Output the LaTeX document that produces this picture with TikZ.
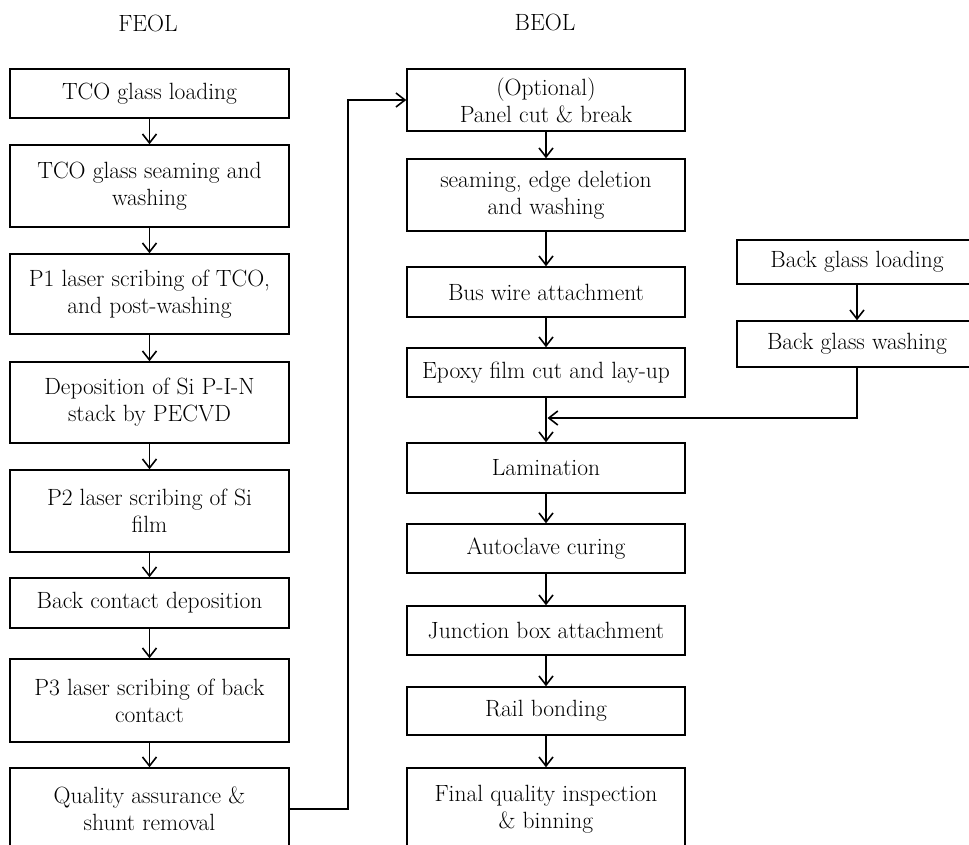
\documentclass[tikz,border=0pt]{standalone}
\usepackage{fontspec}
\usetikzlibrary{arrows.meta}
\begin{document}
\begin{tikzpicture}[x=1pt,y=-1pt,
  every node/.style={font=\fontsize{23.5}{27}\selectfont},
  box/.style={draw, line width=1.5pt, inner sep=0pt, align=center, minimum width=#1},
  box/.default=279pt,
  arr/.style={line width=1.4pt, -{Straight Barb[length=9pt,width=14pt,line width=1.6pt]}},
  ln/.style={line width=1.4pt}]
\clip (0,0) rectangle (969,844);
\fill[white] (0,0) rectangle (969,844);
% headers
\node (hf) at (148,23) {FEOL};
\node (hb) at (545,22) {BEOL};
% FEOL
\node[box, minimum height=49pt] (f1) at (149.5,93.5) {TCO glass loading};
\node[box, minimum height=82pt] (f2) at (149.5,186) {TCO glass seaming and\\washing};
\node[box, minimum height=80pt] (f3) at (149.5,294) {P1 laser scribing of TCO,\\and post-washing};
\node[box, minimum height=81pt] (f4) at (149.5,402.5) {Deposition of Si P-I-N\\stack by PECVD};
\node[box, minimum height=82pt] (f5) at (149.5,511) {P2 laser scribing of Si\\film};
\node[box, minimum height=50pt] (f6) at (149.5,603) {Back contact deposition};
\node[box, minimum height=83pt] (f7) at (149.5,700.5) {P3 laser scribing of back\\contact};
\node[box, minimum height=82pt] (f8) at (149.5,809) {Quality assurance \&\\shunt removal};
% BEOL
\node[box=278pt, minimum height=62pt] (b1) at (546,100) {(Optional)\\Panel cut \& break};
\node[box=278pt, minimum height=72pt] (b2) at (546,195) {seaming, edge deletion\\and washing};
\node[box=278pt, minimum height=50pt] (b3) at (546,292) {Bus wire attachment};
\node[box=278pt, minimum height=49pt] (b4) at (546,372.5) {Epoxy film cut and lay-up};
\node[box=278pt, minimum height=50pt] (b5) at (546,468) {Lamination};
\node[box=278pt, minimum height=49pt] (b6) at (546,548.5) {Autoclave curing};
\node[box=278pt, minimum height=49pt] (b7) at (546,630.5) {Junction box attachment};
\node[box=278pt, minimum height=48pt] (b8) at (546,711) {Rail bonding};
\node[box=278pt, minimum height=82pt] (b9) at (546,809) {Final quality inspection\\\& binning};
% right column
\node[box=240pt, minimum height=44pt] (r1) at (857,262) {Back glass loading};
\node[box=240pt, minimum height=46pt] (r2) at (857,344) {Back glass washing};
% connectors
\draw[arr] (f1) -- (f2);
\draw[arr] (f2) -- (f3);
\draw[arr] (f3) -- (f4);
\draw[arr] (f4) -- (f5);
\draw[arr] (f5) -- (f6);
\draw[arr] (f6) -- (f7);
\draw[arr] (f7) -- (f8);
\coordinate (turn) at (348,809);
\draw[arr] (f8.east) -- (turn) |- (b1.west);
\draw[arr] (b1) -- (b2);
\draw[arr] (b2) -- (b3);
\draw[arr] (b3) -- (b4);
\draw[arr] (b4) -- (b5);
\draw[arr] (b5) -- (b6);
\draw[arr] (b6) -- (b7);
\draw[arr] (b7) -- (b8);
\draw[arr] (b8) -- (b9);
\draw[arr] (r1) -- (r2);
\coordinate (join) at (547.5,418);
\draw[arr] (r2.south) |- (join);
\end{tikzpicture}
\end{document}
